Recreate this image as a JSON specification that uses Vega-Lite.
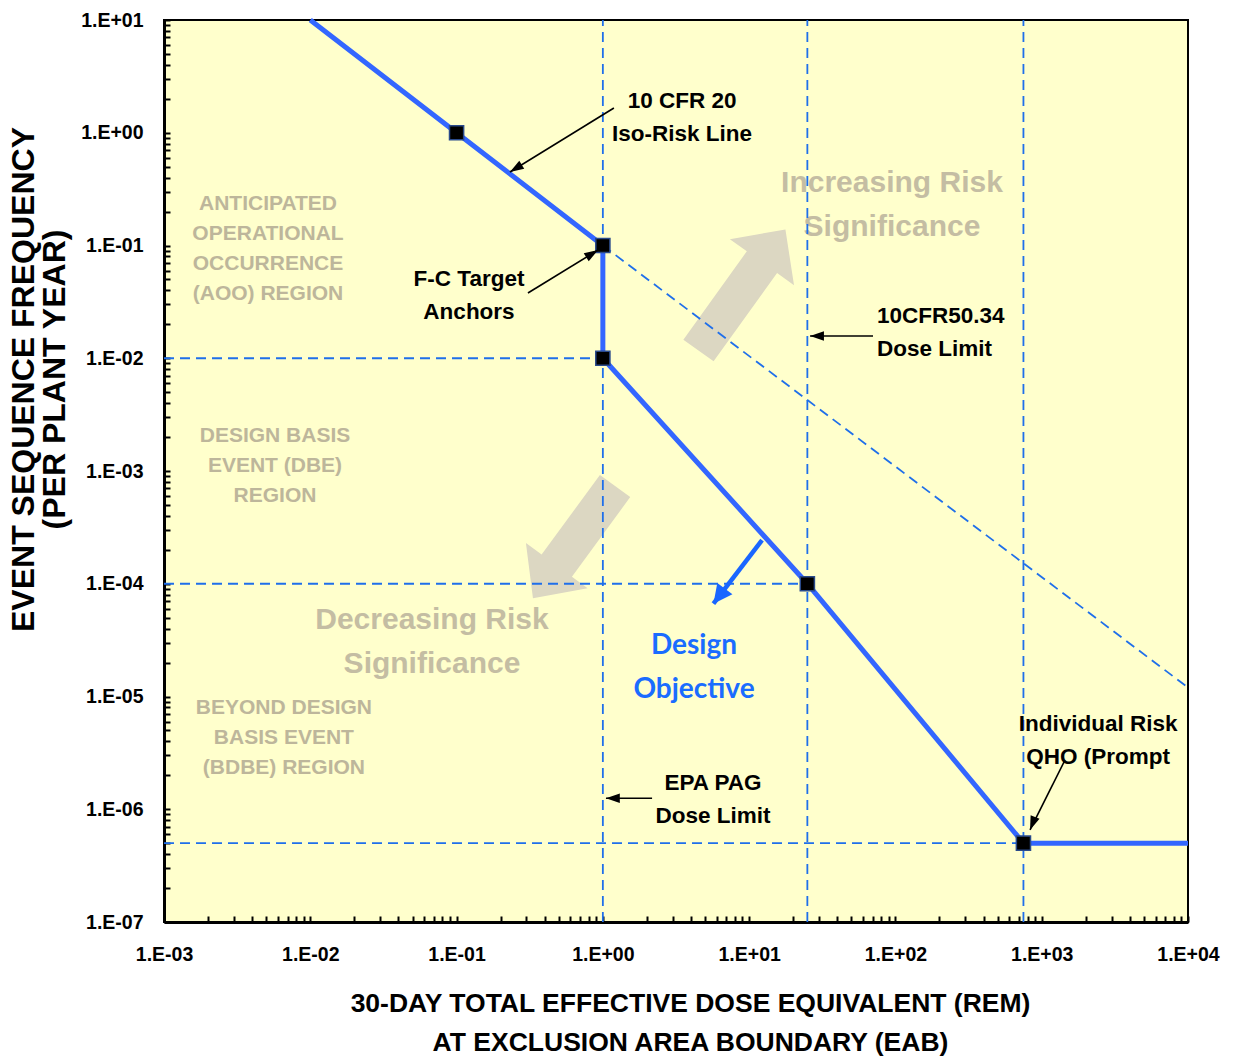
{
  "$schema": "https://vega.github.io/schema/vega-lite/v6.json",
  "autosize": {"type": "none"},
  "width": 1024,
  "height": 902,
  "padding": {"left": 164, "top": 20, "right": 47, "bottom": 139},
  "background": "white",
  "config": {
    "view": {"fill": "#FFFFCC", "stroke": "black", "strokeWidth": 2}
  },
  "datasets": {
    "iso": [
      {"i": 1, "dose": 0.01, "freq": 10},
      {"i": 2, "dose": 0.1, "freq": 1},
      {"i": 3, "dose": 1, "freq": 0.1},
      {"i": 4, "dose": 1, "freq": 0.01},
      {"i": 5, "dose": 25, "freq": 0.0001},
      {"i": 6, "dose": 750, "freq": 5e-7},
      {"i": 7, "dose": 10000, "freq": 5e-7}
    ],
    "anchors": [
      {"dose": 0.1, "freq": 1},
      {"dose": 1, "freq": 0.1},
      {"dose": 1, "freq": 0.01},
      {"dose": 25, "freq": 0.0001},
      {"dose": 750, "freq": 5e-7}
    ],
    "guides": [
      {"dose": 1, "freq": 1e-7, "dose2": 1, "freq2": 10},
      {"dose": 25, "freq": 1e-7, "dose2": 25, "freq2": 10},
      {"dose": 750, "freq": 1e-7, "dose2": 750, "freq2": 10},
      {"dose": 0.001, "freq": 0.01, "dose2": 1, "freq2": 0.01},
      {"dose": 0.001, "freq": 0.0001, "dose2": 25, "freq2": 0.0001},
      {"dose": 0.001, "freq": 5e-7, "dose2": 750, "freq2": 5e-7},
      {"dose": 1, "freq": 0.1, "dose2": 10000, "freq2": 1.2e-5}
    ],
    "callouts": [
      {"id": "a", "dose": 1.19, "freq": 1.657, "dose2": 0.2317, "freq2": 0.449},
      {"id": "b", "dose": 0.3076, "freq": 0.0379, "dose2": 0.927, "freq2": 0.0912},
      {"id": "c", "dose": 70.3, "freq": 0.01574, "dose2": 26.1, "freq2": 0.01574},
      {"id": "d", "dose": 2.17, "freq": 1.25e-6, "dose2": 1.05, "freq2": 1.25e-6},
      {"id": "e", "dose": 1442, "freq": 2.73e-6, "dose2": 832, "freq2": 6.55e-7}
    ],
    "design": [
      {"dose": 12.25, "freq": 0.000244, "dose2": 5.7, "freq2": 0.0000665}
    ],
    "bigArrows": [
      {"id": "inc", "dose": 8.93, "freq": 0.0403},
      {"id": "dec", "dose": 0.635, "freq": 0.000234}
    ],
    "regionText": [
      {"label": "ANTICIPATED\nOPERATIONAL\nOCCURRENCE\n(AOO) REGION", "dose": 0.00514, "freq": 0.2333},
      {"label": "DESIGN BASIS\nEVENT (DBE)\nREGION", "dose": 0.00574, "freq": 0.00204},
      {"label": "BEYOND DESIGN\nBASIS EVENT\n(BDBE) REGION", "dose": 0.0066, "freq": 0.00000791}
    ],
    "riskText": [
      {"label": "Increasing Risk\nSignificance", "dose": 94.7, "freq": 0.3583},
      {"label": "Decreasing Risk\nSignificance", "dose": 0.0679, "freq": 0.0000477}
    ],
    "designText": [
      {"label": "Design\nObjective", "dose": 4.2, "freq": 0.0000281}
    ],
    "noteText": [
      {"label": "10 CFR 20\nIso-Risk Line", "dose": 3.48, "freq": 1.912},
      {"label": "F-C Target\nAnchors", "dose": 0.1216, "freq": 0.0505},
      {"label": "EPA PAG\nDose Limit", "dose": 5.66, "freq": 0.00000171},
      {"label": "Individual Risk\nQHO (Prompt", "dose": 2427, "freq": 0.0000057}
    ],
    "noteTextLeft": [
      {"label": "10CFR50.34\nDose Limit", "dose": 74.8, "freq": 0.0237}
    ]
  },
  "encoding": {
    "x": {
      "field": "dose", "type": "quantitative",
      "scale": {"type": "log", "domain": [0.001, 10000], "nice": false, "zero": false},
      "axis": {
        "values": [0.001,0.002,0.003,0.004,0.005,0.006,0.007,0.008,0.009,0.01,0.02,0.03,0.04,0.05,0.06,0.07,0.08,0.09,0.1,0.2,0.3,0.4,0.5,0.6,0.7,0.8,0.9,1,2,3,4,5,6,7,8,9,10,20,30,40,50,60,70,80,90,100,200,300,400,500,600,700,800,900,1000,2000,3000,4000,5000,6000,7000,8000,9000,10000],
        "labelExpr": "abs(log(datum.value)/LN10 - round(log(datum.value)/LN10)) < 0.001 ? (datum.value >= 1 ? '1.E+0' : '1.E-0') + abs(round(log(datum.value)/LN10)) : ''",
        "grid": false,
        "tickSize": -6, "tickWidth": 2, "tickColor": "black",
        "domainColor": "black", "domainWidth": 3,
        "labelFont": "Liberation Sans, Arial, sans-serif",
        "labelFontSize": 19.5, "labelFontWeight": "bold", "labelColor": "black",
        "labelPadding": 29, "labelOverlap": false, "labelFlush": false,
        "title": ["30-DAY TOTAL EFFECTIVE DOSE EQUIVALENT (REM)", "AT EXCLUSION AREA BOUNDARY (EAB)"],
        "titleFont": "Liberation Sans, Arial, sans-serif",
        "titleFontSize": 26.5, "titleFontWeight": "bold", "titleColor": "black",
        "titleLineHeight": 39, "titleX": 526, "titleY": 81, "titleAlign": "center", "titleBaseline": "middle"
      }
    },
    "y": {
      "field": "freq", "type": "quantitative",
      "scale": {"type": "log", "domain": [1e-7, 10], "nice": false, "zero": false},
      "axis": {
        "values": [1e-7,2e-7,3e-7,4e-7,5e-7,6e-7,7e-7,8e-7,9e-7,1e-6,2e-6,3e-6,4e-6,5e-6,6e-6,7e-6,8e-6,9e-6,1e-5,2e-5,3e-5,4e-5,5e-5,6e-5,7e-5,8e-5,9e-5,0.0001,0.0002,0.0003,0.0004,0.0005,0.0006,0.0007,0.0008,0.0009,0.001,0.002,0.003,0.004,0.005,0.006,0.007,0.008,0.009,0.01,0.02,0.03,0.04,0.05,0.06,0.07,0.08,0.09,0.1,0.2,0.3,0.4,0.5,0.6,0.7,0.8,0.9,1,2,3,4,5,6,7,8,9,10],
        "labelExpr": "abs(log(datum.value)/LN10 - round(log(datum.value)/LN10)) < 0.001 ? (datum.value >= 1 ? '1.E+0' : '1.E-0') + abs(round(log(datum.value)/LN10)) : ''",
        "grid": false,
        "tickSize": -6, "tickWidth": 2, "tickColor": "black",
        "domainColor": "black", "domainWidth": 3,
        "labelFont": "Liberation Sans, Arial, sans-serif",
        "labelFontSize": 19.5, "labelFontWeight": "bold", "labelColor": "black",
        "labelPadding": 27, "labelOverlap": false, "labelFlush": false,
        "title": ["EVENT SEQUENCE   FREQUENCY", "(PER PLANT YEAR)"],
        "titleFont": "Liberation Sans, Arial, sans-serif",
        "titleFontSize": 32, "titleFontWeight": "bold", "titleColor": "black",
        "titleLineHeight": 31, "titleAngle": -90, "titleX": -141, "titleY": 359,
        "titleAlign": "center", "titleBaseline": "middle"
      }
    }
  },
  "layer": [
    {
      "data": {"name": "bigArrows"},
      "transform": [{"filter": "datum.id == 'inc'"}],
      "mark": {"type": "point", "filled": true, "fill": "#DCD7C2", "stroke": null, "opacity": 1, "size": 22201, "angle": 35.7,
               "shape": "M0,-1 L0.53,-0.46 L0.25,-0.46 L0.25,1 L-0.25,1 L-0.25,-0.46 L-0.53,-0.46 Z"}
    },
    {
      "data": {"name": "bigArrows"},
      "transform": [{"filter": "datum.id == 'dec'"}],
      "mark": {"type": "point", "filled": true, "fill": "#DCD7C2", "stroke": null, "opacity": 1, "size": 19321, "angle": 216.2,
               "shape": "M0,-1 L0.55,-0.42 L0.27,-0.42 L0.27,1 L-0.27,1 L-0.27,-0.42 L-0.55,-0.42 Z"}
    },
    {
      "data": {"name": "regionText"},
      "mark": {"type": "text", "font": "Liberation Sans, Arial, sans-serif",
               "fontSize": 21, "fontWeight": "bold", "color": "#BDB69B", "lineBreak": "\n", "lineHeight": 30,
               "align": "center", "baseline": "middle"},
      "encoding": {"text": {"field": "label"}}
    },
    {
      "data": {"name": "riskText"},
      "mark": {"type": "text", "font": "Liberation Sans, Arial, sans-serif",
               "fontSize": 30, "fontWeight": "bold", "color": "#C4BDA3", "lineBreak": "\n", "lineHeight": 44,
               "align": "center", "baseline": "middle"},
      "encoding": {"text": {"field": "label"}}
    },
    {
      "data": {"name": "guides"},
      "mark": {"type": "rule", "color": "#1F6FEA", "strokeWidth": 1.8, "strokeDash": [10, 6]},
      "encoding": {"x2": {"field": "dose2"}, "y2": {"field": "freq2"}}
    },
    {
      "data": {"name": "iso"},
      "mark": {"type": "line", "color": "#3366FF", "strokeWidth": 5, "strokeJoin": "miter"},
      "encoding": {"order": {"field": "i", "type": "quantitative"}}
    },
    {
      "data": {"name": "design"},
      "mark": {"type": "rule", "color": "#1A66FF", "strokeWidth": 4.5},
      "encoding": {"x2": {"field": "dose2"}, "y2": {"field": "freq2"}}
    },
    {
      "data": {"name": "design"},
      "mark": {"type": "point", "filled": true, "fill": "#1A66FF", "stroke": null, "opacity": 1, "size": 560, "angle": 217.2,
               "shape": "M0,0 L0.8,1.6 L-0.8,1.6 Z"},
      "encoding": {"x": {"field": "dose2", "type": "quantitative"}, "y": {"field": "freq2", "type": "quantitative"}}
    },
    {
      "data": {"name": "anchors"},
      "mark": {"type": "point", "shape": "square", "filled": true, "fill": "black", "stroke": "#2A4A8A", "strokeWidth": 1.5, "opacity": 1, "size": 200}
    },
    {
      "data": {"name": "callouts"},
      "mark": {"type": "rule", "color": "black", "strokeWidth": 1.6},
      "encoding": {"x2": {"field": "dose2"}, "y2": {"field": "freq2"}}
    },
    {
      "data": {"name": "callouts"},
      "transform": [{"filter": "datum.id == 'a'"}],
      "mark": {"type": "point", "filled": true, "fill": "black", "stroke": null, "opacity": 1, "size": 300, "angle": 238.4, "shape": "M0,0 L0.55,1.6 L-0.55,1.6 Z"},
      "encoding": {"x": {"field": "dose2", "type": "quantitative"}, "y": {"field": "freq2", "type": "quantitative"}}
    },
    {
      "data": {"name": "callouts"},
      "transform": [{"filter": "datum.id == 'b'"}],
      "mark": {"type": "point", "filled": true, "fill": "black", "stroke": null, "opacity": 1, "size": 300, "angle": 58.4, "shape": "M0,0 L0.55,1.6 L-0.55,1.6 Z"},
      "encoding": {"x": {"field": "dose2", "type": "quantitative"}, "y": {"field": "freq2", "type": "quantitative"}}
    },
    {
      "data": {"name": "callouts"},
      "transform": [{"filter": "datum.id == 'c' || datum.id == 'd'"}],
      "mark": {"type": "point", "filled": true, "fill": "black", "stroke": null, "opacity": 1, "size": 300, "angle": 270, "shape": "M0,0 L0.55,1.6 L-0.55,1.6 Z"},
      "encoding": {"x": {"field": "dose2", "type": "quantitative"}, "y": {"field": "freq2", "type": "quantitative"}}
    },
    {
      "data": {"name": "callouts"},
      "transform": [{"filter": "datum.id == 'e'"}],
      "mark": {"type": "point", "filled": true, "fill": "black", "stroke": null, "opacity": 1, "size": 300, "angle": 201.3, "shape": "M0,0 L0.55,1.6 L-0.55,1.6 Z"},
      "encoding": {"x": {"field": "dose2", "type": "quantitative"}, "y": {"field": "freq2", "type": "quantitative"}}
    },
    {
      "data": {"name": "designText"},
      "mark": {"type": "text", "font": "Lato, Open Sans, sans-serif",
               "fontSize": 28, "fontWeight": "bold", "color": "#1A6CFF", "lineBreak": "\n", "lineHeight": 44,
               "align": "center", "baseline": "middle"},
      "encoding": {"text": {"field": "label"}}
    },
    {
      "data": {"name": "noteText"},
      "mark": {"type": "text", "font": "Liberation Sans, Arial, sans-serif",
               "fontSize": 22.5, "fontWeight": "bold", "color": "black", "lineBreak": "\n", "lineHeight": 33,
               "align": "center", "baseline": "middle"},
      "encoding": {"text": {"field": "label"}}
    },
    {
      "data": {"name": "noteTextLeft"},
      "mark": {"type": "text", "font": "Liberation Sans, Arial, sans-serif",
               "fontSize": 22.5, "fontWeight": "bold", "color": "black", "lineBreak": "\n", "lineHeight": 33,
               "align": "left", "baseline": "middle"},
      "encoding": {"text": {"field": "label"}}
    }
  ]
}
